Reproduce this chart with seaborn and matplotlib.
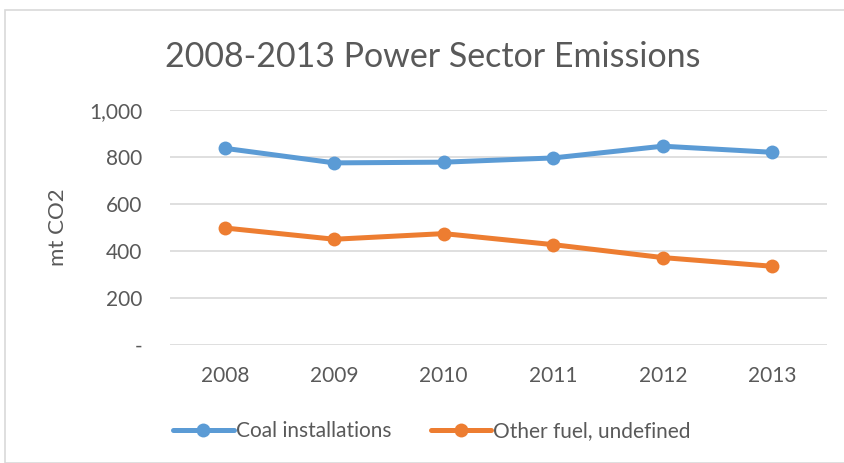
import pandas as pd
import seaborn as sns
import matplotlib.pyplot as plt
from matplotlib.ticker import FuncFormatter

# --- Data ---
years = ['2008', '2009', '2010', '2011', '2012', '2013']
coal = [837, 775, 778, 796, 846, 820]
other = [498, 450, 474, 427, 372, 335]
series_names = ['Coal installations', 'Other fuel, undefined']
colors = ['#5B9BD5', '#ED7D31']

df = pd.DataFrame({
    'year': years * 2,
    'value': coal + other,
    'series': [series_names[0]] * len(years) + [series_names[1]] * len(years),
})

sns.set_style('white')
plt.rcParams['font.family'] = ['Lato', 'DejaVu Sans']
TEXT = '#595959'

fig = plt.figure(figsize=(8.44, 4.63), dpi=100)
ax = fig.add_axes([170 / 844, 1 - 345 / 463, (827 - 170) / 844, (345 - 110) / 463])

sns.lineplot(data=df, x='year', y='value', hue='series', palette=colors,
             marker='o', markersize=10, markeredgewidth=0, linewidth=3.6,
             sort=False, ax=ax, legend=False)

ax.set_xlim(-0.5, len(years) - 0.5)
ax.set_ylim(0, 1000)
ax.set_yticks([0, 200, 400, 600, 800, 1000])
ax.yaxis.set_major_formatter(FuncFormatter(lambda v, p: '-' if v == 0 else f'{int(v):,}'))
ax.grid(axis='y', color='#D9D9D9', linewidth=1.2)
ax.set_axisbelow(True)
for s in ax.spines.values():
    s.set_visible(False)
ax.tick_params(length=0, labelsize=15, colors=TEXT)
ax.tick_params(axis='y', pad=20)
ax.tick_params(axis='x', pad=15)
ax.set_xlabel('')
ax.set_ylabel('mt CO2', fontsize=16, color=TEXT)
ax.yaxis.set_label_coords((68 - 170) / 657, 0.5)

fig.text(433 / 844, 1 - 57 / 463, '2008-2013 Power Sector Emissions',
         ha='center', va='center', fontsize=24.5, color=TEXT)

handles = [plt.Line2D([], [], color=c, marker='o', markersize=10, linewidth=3.6,
                      markeredgewidth=0) for c in colors]
fig.legend(handles, series_names, loc='center', bbox_to_anchor=(432 / 844, 1 - 431 / 463),
           ncol=2, frameon=False, fontsize=15, labelcolor=TEXT, handlelength=2.9,
           handletextpad=0.1, columnspacing=1.9)

# chart frame
fig.patches.append(plt.Rectangle((5 / 844, 0), 1, 1 - 10 / 463, transform=fig.transFigure,
                                 fill=False, edgecolor='#D9D9D9', linewidth=1.2))

fig.savefig('out.png', dpi=100)
